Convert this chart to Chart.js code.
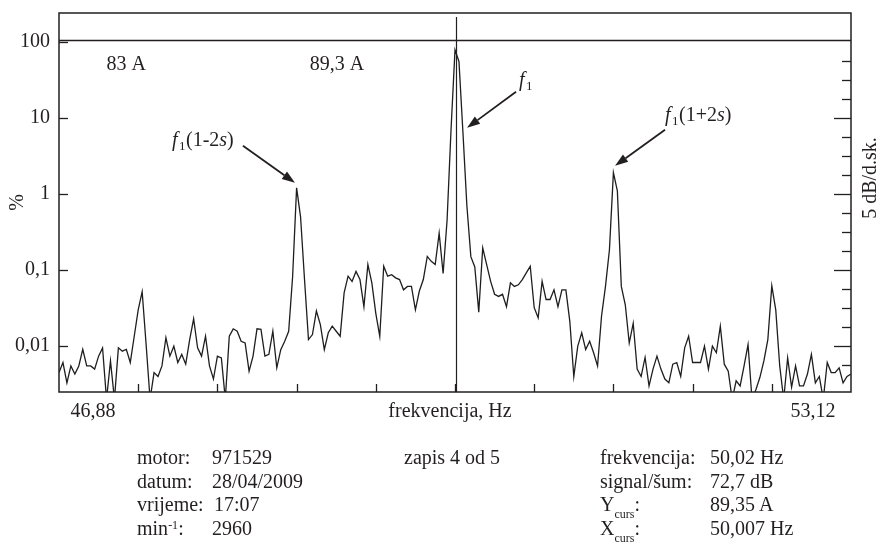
<!DOCTYPE html>
<html>
<head>
<meta charset="utf-8">
<script src="https://cdn.jsdelivr.net/npm/chart.js@4.4.1/dist/chart.umd.min.js"></script>
<style>
html,body{margin:0;padding:0;background:#fff;}
#wrap{position:relative;width:880px;height:544px;font-family:"Liberation Serif","Times New Roman",serif;color:#231f20;overflow:hidden;}
canvas{position:absolute;left:0;top:0;}
.t{position:absolute;font-size:20px;line-height:24px;white-space:nowrap;}
.t sub{font-size:12px;line-height:0;vertical-align:-7px;}
.t sup{font-size:12px;line-height:0;vertical-align:6px;}
</style>
</head>
<body>
<div id="wrap">
<canvas id="c" width="880" height="544"></canvas>
<div class="t" style="left:137px;top:445px">motor:</div>
<div class="t" style="left:212px;top:445px">971529</div>
<div class="t" style="left:137px;top:469px">datum:</div>
<div class="t" style="left:212px;top:469px">28/04/2009</div>
<div class="t" style="left:137px;top:492px">vrijeme:</div>
<div class="t" style="left:214px;top:492px">17:07</div>
<div class="t" style="left:137px;top:516px">min<sup>-1</sup>:</div>
<div class="t" style="left:212px;top:516px">2960</div>
<div class="t" style="left:404px;top:445px">zapis 4 od 5</div>
<div class="t" style="left:600px;top:445px">frekvencija:</div>
<div class="t" style="left:710px;top:445px">50,02 Hz</div>
<div class="t" style="left:600px;top:469px">signal/šum:</div>
<div class="t" style="left:710px;top:469px">72,7 dB</div>
<div class="t" style="left:600px;top:492px">Y<sub>curs</sub>:</div>
<div class="t" style="left:710px;top:492px">89,35 A</div>
<div class="t" style="left:600px;top:516px">X<sub>curs</sub>:</div>
<div class="t" style="left:710px;top:516px">50,007 Hz</div>
</div>
<script>
// ---- data ----
const FREQ_MIN = 46.88;          // Hz, left edge of the spectrum
const FREQ_MAX = 53.12;          // Hz, right edge of the spectrum
const X_EDGE_LABELS = ['46,88', '53,12'];
const X_TITLE = 'frekvencija, Hz';
const X_DIVISIONS = 10;
const Y_TICKS = [0.01, 0.1, 1, 10, 100];
const Y_MIN = 0.0025;
const Y_MAX = 238;
const REF_LEVEL = 106;           // horizontal reference line, %
const CURSOR_FREQ = 50.007;      // Hz
const AMPLITUDE = [
 0.0045,0.0061,0.0033,0.0055,0.0043,0.0055,0.0091,0.0055,0.0055,0.0050,
 0.0074,0.0095,0.002,0.0064,0.002,0.0095,0.0086,0.0091,0.0061,0.0135,
 0.030,0.052,0.0105,0.002,0.0045,0.0040,0.0055,0.0129,0.0074,0.010,
 0.0061,0.0078,0.0058,0.0122,0.0229,0.0095,0.0074,0.0135,0.0055,0.0037,
 0.0074,0.0070,0.002,0.0135,0.0169,0.0157,0.0116,0.011,0.0047,0.0074,
 0.0169,0.0166,0.0074,0.0078,0.0157,0.0052,0.0090,0.0116,0.0157,0.083,
 1.2,0.5,0.075,0.0122,0.0142,0.029,0.0192,0.0090,0.0150,0.0183,
 0.0157,0.0135,0.050,0.083,0.071,0.096,0.075,0.033,0.118,0.068,
 0.027,0.0135,0.112,0.083,0.087,0.079,0.075,0.055,0.061,0.061,
 0.030,0.053,0.075,0.151,0.130,0.118,0.306,0.09,0.45,7,
 78,55,6.5,0.7,0.15,0.11,0.028,0.195,0.118,0.071,
 0.048,0.045,0.048,0.033,0.068,0.061,0.064,0.075,0.092,0.112,
 0.032,0.0236,0.071,0.041,0.041,0.055,0.033,0.055,0.055,0.021,
 0.0040,0.010,0.0150,0.009,0.0116,0.0082,0.0055,0.0247,0.061,0.185,
 1.9,1.1,0.061,0.035,0.011,0.02,0.005,0.004,0.0071,0.003,
 0.005,0.0074,0.005,0.0037,0.0033,0.0058,0.0061,0.004,0.0095,0.0135,
 0.0061,0.0061,0.0061,0.010,0.005,0.010,0.0082,0.0183,0.0058,0.0047,
 0.002,0.0035,0.003,0.0055,0.0105,0.002,0.0027,0.0039,0.0064,0.0122,
 0.062,0.030,0.0055,0.002,0.007,0.0029,0.0055,0.003,0.003,0.0043,
 0.0078,0.0033,0.004,0.002,0.0061,0.0045,0.0045,0.0052,0.0033,0.004,
 0.0043
];
const CURRENT_LABELS = ['83 A', '89,3 A'];
const CURRENT_LABEL_FREQ = [47.255, 48.855];
const PEAK_NOTES = [
  {freq: 48.739, value: 1.40, parts: [['(1-2', false], ['s', true], [')', false]], tail: [-52, -37], text: [-123, -37]},
  {freq: 50.095, value: 7.38, parts: [], tail: [49, -36], text: [52, -42]},
  {freq: 51.261, value: 2.34, parts: [['(1+2', false], ['s', true], [')', false]], tail: [50, -36], text: [50, -45]}
];
const RIGHT_AXIS_TITLE = '5 dB/d.sk.';

// ---- chart ----
const FONT = '"Liberation Serif", "Times New Roman", serif';
const INK = '#231f20';
const step = (FREQ_MAX - FREQ_MIN) / (AMPLITUDE.length - 1);
const points = AMPLITUDE.map((v, i) => ({x: FREQ_MIN + i * step, y: v}));

function arrow(ctx, x0, y0, x1, y1) {
  const a = Math.atan2(y1 - y0, x1 - x0), L = 13, W = 4.5;
  const bx = x1 - L * Math.cos(a), by = y1 - L * Math.sin(a);
  ctx.beginPath(); ctx.moveTo(x0, y0); ctx.lineTo(bx, by); ctx.lineWidth = 1.8; ctx.stroke();
  ctx.beginPath(); ctx.moveTo(x1, y1);
  ctx.lineTo(bx + W * Math.sin(a), by - W * Math.cos(a));
  ctx.lineTo(bx - W * Math.sin(a), by + W * Math.cos(a));
  ctx.closePath(); ctx.fill();
}

const decor = {
  id: 'decor',
  afterDatasetsDraw(chart) {
    const {ctx, chartArea: ca, scales: {x, y}} = chart;
    ctx.save();
    ctx.strokeStyle = INK; ctx.fillStyle = INK;
    // frame
    ctx.lineWidth = 1.5;
    ctx.strokeRect(ca.left, ca.top, ca.right - ca.left, ca.bottom - ca.top);
    // reference line
    const yr = Math.round(y.getPixelForValue(REF_LEVEL)) + 0.5;
    ctx.lineWidth = 1.3;
    ctx.beginPath(); ctx.moveTo(ca.left, yr); ctx.lineTo(ca.right, yr); ctx.stroke();
    // cursor
    const xc = Math.round(x.getPixelForValue(CURSOR_FREQ)) + 0.5;
    ctx.lineWidth = 1.2;
    ctx.beginPath(); ctx.moveTo(xc, ca.top + 4); ctx.lineTo(xc, ca.bottom); ctx.stroke();
    // left ticks
    ctx.lineWidth = 1.3;
    Y_TICKS.forEach(v => {
      const p = Math.round(y.getPixelForValue(v)) + 0.5;
      ctx.beginPath(); ctx.moveTo(ca.left, p); ctx.lineTo(ca.left + 9, p); ctx.stroke();
    });
    // right ticks, 5 dB per division
    for (let k = -9; k <= 7; k++) {
      const p = Math.round(y.getPixelForValue(Math.pow(10, k / 4))) + 0.5;
      const len = (k % 4 === 0) ? 17 : 9;
      ctx.beginPath(); ctx.moveTo(ca.right, p); ctx.lineTo(ca.right - len, p); ctx.stroke();
    }
    // bottom ticks
    for (let d = 1; d < X_DIVISIONS; d++) {
      const f = FREQ_MIN + d * (FREQ_MAX - FREQ_MIN) / X_DIVISIONS;
      const p = Math.round(x.getPixelForValue(f)) + 0.5;
      ctx.beginPath(); ctx.moveTo(p, ca.bottom); ctx.lineTo(p, ca.bottom - 8); ctx.stroke();
    }
    // x labels
    ctx.font = '20px ' + FONT; ctx.textBaseline = 'alphabetic'; ctx.textAlign = 'center';
    ctx.fillText(X_EDGE_LABELS[0], ca.left + 34, ca.bottom + 25);
    ctx.fillText(X_EDGE_LABELS[1], ca.right - 38, ca.bottom + 25);
    ctx.fillText(X_TITLE, (ca.left + ca.right) / 2 - 5, ca.bottom + 25);
    // right axis title
    ctx.save();
    ctx.translate(871, 178);
    ctx.rotate(-Math.PI / 2);
    ctx.textBaseline = 'middle';
    ctx.fillText(RIGHT_AXIS_TITLE, 0, 0);
    ctx.restore();
    // current labels
    ctx.textAlign = 'left';
    CURRENT_LABELS.forEach((t, i) => ctx.fillText(t, x.getPixelForValue(CURRENT_LABEL_FREQ[i]), ca.top + 57));
    // peak annotations
    PEAK_NOTES.forEach(n => {
      const tx = x.getPixelForValue(n.freq), ty = y.getPixelForValue(n.value);
      arrow(ctx, tx + n.tail[0], ty + n.tail[1], tx, ty);
      let px = tx + n.text[0]; const py = ty + n.text[1];
      ctx.font = 'italic 20px ' + FONT; ctx.fillText('f', px, py);
      px += ctx.measureText('f').width + 1.5;
      ctx.font = '13px ' + FONT; ctx.fillText('1', px, py + 4);
      px += ctx.measureText('1').width + 0.5;
      n.parts.forEach(([s, it]) => {
        ctx.font = (it ? 'italic ' : '') + '20px ' + FONT;
        ctx.fillText(s, px, py);
        px += ctx.measureText(s).width;
      });
    });
    ctx.restore();
  }
};

new Chart(document.getElementById('c'), {
  type: 'line',
  data: {datasets: [{
    data: points,
    borderColor: '#1e1e1e',
    borderWidth: 1.3,
    pointRadius: 0,
    tension: 0,
    fill: false
  }]},
  options: {
    responsive: false,
    animation: false,
    devicePixelRatio: 1,
    layout: {padding: {left: 0, top: 13, right: 29, bottom: 152}},
    plugins: {legend: {display: false}, tooltip: {enabled: false}},
    scales: {
      x: {type: 'linear', min: FREQ_MIN, max: FREQ_MAX, display: false},
      y: {
        type: 'logarithmic', min: Y_MIN, max: Y_MAX,
        afterFit(s) { s.width = 59; s.paddingTop = 0; s.paddingBottom = 0; },
        afterBuildTicks(s) { s.ticks = Y_TICKS.map(v => ({value: v})); },
        grid: {display: false, drawTicks: false},
        border: {display: false},
        ticks: {
          color: INK, padding: 9,
          font: {family: FONT, size: 20},
          callback: v => String(v).replace('.', ',')
        },
        title: {display: true, text: '%', color: INK, font: {family: FONT, size: 20}, padding: {top: 6, bottom: 0}}
      }
    }
  },
  plugins: [decor]
});
</script>
</body>
</html>
